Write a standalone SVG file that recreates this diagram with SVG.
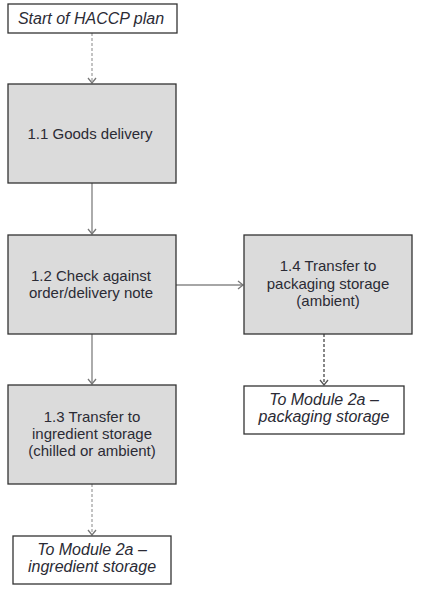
<svg xmlns="http://www.w3.org/2000/svg" width="422" height="590" viewBox="0 0 422 590">
  <defs>
    <marker id="open" markerWidth="10" markerHeight="10" refX="8" refY="5" orient="auto" markerUnits="userSpaceOnUse">
      <path d="M3,1 L8,5 L3,9" fill="none" stroke="#777" stroke-width="1.3"/>
    </marker>
    <marker id="openDark" markerWidth="10" markerHeight="10" refX="8" refY="5" orient="auto" markerUnits="userSpaceOnUse">
      <path d="M3,1 L8,5 L3,9" fill="none" stroke="#555" stroke-width="1.3"/>
    </marker>
  </defs>
  <style>
    .step { fill: #dbdbdb; stroke: #333; stroke-width: 1.3; }
    .term { fill: #fff; stroke: #333; stroke-width: 1.3; }
    .label { font-family: "Liberation Sans", Arial, sans-serif; font-size: 15px; fill: #2b2b35; text-anchor: middle; }
    .ital { font-style: italic; font-size: 16px; }
    .solid { stroke: #888; stroke-width: 1.4; fill: none; }
    .dash { stroke: #aaa; stroke-width: 1.4; stroke-dasharray: 3 2; fill: none; }
    .dashDark { stroke: #555; stroke-width: 1.4; stroke-dasharray: 3 2; fill: none; }
  </style>
  <rect width="422" height="590" fill="#fff"/>

  <g id="connectors">
    <line class="dash" x1="92" y1="33" x2="92" y2="83" marker-end="url(#open)"/>
    <line class="solid" x1="92" y1="183" x2="92" y2="234" marker-end="url(#open)"/>
    <line class="solid" x1="176" y1="285" x2="243" y2="285" marker-end="url(#open)"/>
    <line class="solid" x1="92" y1="334" x2="92" y2="384" marker-end="url(#open)"/>
    <line class="dashDark" x1="324" y1="334" x2="324" y2="385" marker-end="url(#openDark)"/>
    <line class="dash" x1="92" y1="484" x2="92" y2="535" marker-end="url(#open)"/>
  </g>

  <g id="start">
    <rect class="term" x="8" y="4" width="169" height="29"/>
    <text class="label ital" x="91" y="24">Start of HACCP plan</text>
  </g>

  <g id="step-1-1">
    <rect class="step" x="8" y="84" width="168" height="99"/>
    <text class="label" x="90" y="139">1.1 Goods delivery</text>
  </g>

  <g id="step-1-2">
    <rect class="step" x="8" y="235" width="168" height="99"/>
    <text class="label" x="91" y="281">1.2 Check against</text>
    <text class="label" x="91" y="298">order/delivery note</text>
  </g>

  <g id="step-1-4">
    <rect class="step" x="244" y="235" width="168" height="99"/>
    <text class="label" x="328" y="271">1.4 Transfer to</text>
    <text class="label" x="328" y="289">packaging storage</text>
    <text class="label" x="328" y="306">(ambient)</text>
  </g>

  <g id="step-1-3">
    <rect class="step" x="8" y="385" width="168" height="99"/>
    <text class="label" x="92" y="422">1.3 Transfer to</text>
    <text class="label" x="92" y="439">ingredient storage</text>
    <text class="label" x="92" y="456">(chilled or ambient)</text>
  </g>

  <g id="to-packaging">
    <rect class="term" x="244" y="386" width="160" height="48"/>
    <text class="label ital" x="324" y="405">To Module 2a –</text>
    <text class="label ital" x="324" y="422">packaging storage</text>
  </g>

  <g id="to-ingredient">
    <rect class="term" x="13" y="536" width="158" height="48"/>
    <text class="label ital" x="92" y="555">To Module 2a –</text>
    <text class="label ital" x="92" y="572">ingredient storage</text>
  </g>
</svg>
